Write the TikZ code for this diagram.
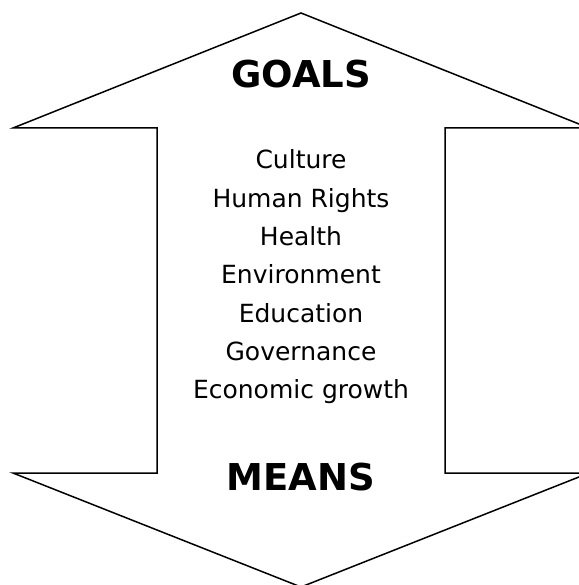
\documentclass[tikz,border=0pt]{standalone}
\usepackage{fontspec}
\setmainfont{DejaVu Sans}
\begin{document}
\begin{tikzpicture}[x=1pt,y=-1pt,
  outline/.style={draw=black,line width=1.5pt,line join=miter},
  head/.style={anchor=base,font=\fontsize{37}{40}\selectfont\bfseries},
  item/.style={anchor=base,font=\fontsize{25}{28}\selectfont}]
\useasboundingbox (0,0) rectangle (578,585);
\draw[outline] (301,13) -- (589,128) -- (445,128) -- (445,473) -- (589,473) -- (301,587)
  -- (13,473) -- (157,473) -- (157,128) -- (13,128) -- cycle;
\node[head] (goals) at (301,88) {GOALS};
\node[head] (means) at (301,490) {MEANS};
\node[item] (i1) at (301,169) {Culture};
\node[item] (i2) at (301,207.3) {Human Rights};
\node[item] (i3) at (301,245.6) {Health};
\node[item] (i4) at (301,283.9) {Environment};
\node[item] (i5) at (301,322.2) {Education};
\node[item] (i6) at (301,360.5) {Governance};
\node[item] (i7) at (301,398.8) {Economic growth};
\end{tikzpicture}
\end{document}
